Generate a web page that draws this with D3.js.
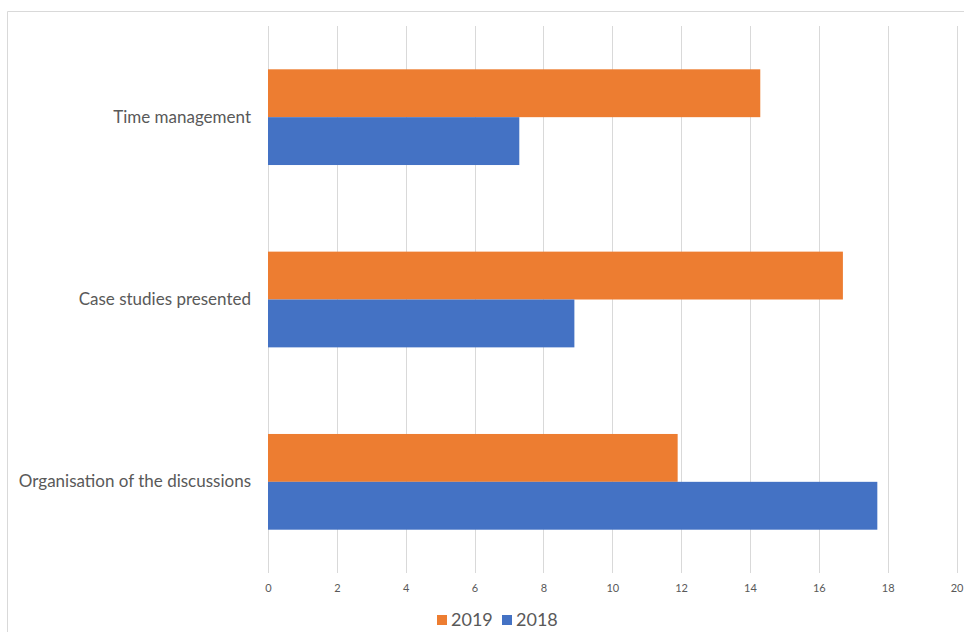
<!DOCTYPE html>
<html>
<head>
<meta charset="utf-8">
<script src="https://cdn.jsdelivr.net/npm/d3@7"></script>
<style>
  html, body { margin: 0; padding: 0; background: #fff; }
  svg { display: block; }
  text { font-family: Lato, "Open Sans", "DejaVu Sans", sans-serif; fill: #595959; }
</style>
</head>
<body>
<svg id="chart" width="964" height="632"></svg>
<script>
const categories = ["Time management", "Case studies presented", "Organisation of the discussions"];
const seriesNames = ["2019", "2018"];
const values2019 = [14.3, 16.7, 11.9];
const values2018 = [7.3, 8.9, 17.7];
const xTicks = [0, 2, 4, 6, 8, 10, 12, 14, 16, 18, 20];
const colors = { "2019": "#ED7D31", "2018": "#4472C4" };

const seriesValues = { "2019": values2019, "2018": values2018 };
const svg = d3.select("#chart");
const W = 964, H = 632;
const plot = { left: 268, right: 956.5, top: 26, bottom: 573 };

// chart area border (top and left visible)
svg.append("line").attr("x1", 7.5).attr("x2", W).attr("y1", 11.5).attr("y2", 11.5)
  .attr("stroke", "#d9d9d9").attr("stroke-width", 1);
svg.append("line").attr("x1", 7.5).attr("x2", 7.5).attr("y1", 11.5).attr("y2", H)
  .attr("stroke", "#d9d9d9").attr("stroke-width", 1);

const x = d3.scaleLinear().domain([0, 20]).range([plot.left, plot.right]);
const y = d3.scaleBand().domain(categories).range([plot.top, plot.bottom]).padding(0);
const gapFrac = 0.2375;
const ySub = d3.scaleBand().domain(seriesNames)
  .range([y.bandwidth() * gapFrac, y.bandwidth() * (1 - gapFrac)]).padding(0);

// gridlines
svg.append("g").selectAll("line").data(xTicks).join("line")
  .attr("x1", d => Math.round(x(d)) + 0.5).attr("x2", d => Math.round(x(d)) + 0.5)
  .attr("y1", plot.top).attr("y2", plot.bottom)
  .attr("stroke", "#d9d9d9").attr("stroke-width", 1);

// bars
const groups = svg.append("g").selectAll("g").data(categories).join("g")
  .attr("transform", c => `translate(0,${y(c)})`);
groups.selectAll("rect").data((c, i) => seriesNames.map(s => ({ s, v: seriesValues[s][i] })))
  .join("rect")
  .attr("x", x(0))
  .attr("y", d => ySub(d.s))
  .attr("width", d => x(d.v) - x(0))
  .attr("height", ySub.bandwidth())
  .attr("fill", d => colors[d.s]);

// x axis tick labels
const xAxis = d3.axisBottom(x).tickValues(xTicks).tickSize(0).tickPadding(0);
const gx = svg.append("g").attr("transform", `translate(0,${plot.bottom + 11})`).call(xAxis);
gx.select(".domain").remove();
gx.selectAll("text").style("font-size", "11px").attr("fill", "#595959")
  .style("font-family", "Lato, 'Open Sans', sans-serif");

// category labels
const yAxis = d3.axisLeft(y).tickSize(0).tickPadding(17);
const gy = svg.append("g").attr("transform", `translate(${plot.left},0)`).call(yAxis);
gy.select(".domain").remove();
gy.selectAll("text").style("font-size", "17px").attr("fill", "#595959")
  .style("font-family", "Lato, 'Open Sans', sans-serif");

// legend
const legendItems = [
  { name: "2019", x: 437 },
  { name: "2018", x: 502 }
];
const lg = svg.append("g").selectAll("g").data(legendItems).join("g")
  .attr("transform", d => `translate(${d.x},620)`);
lg.append("rect").attr("x", 0).attr("y", -5).attr("width", 10).attr("height", 10)
  .attr("fill", d => colors[d.name]);
lg.append("text").attr("x", 14).attr("y", 0).attr("dy", "0.35em")
  .style("font-size", "18px").text(d => d.name);
</script>
</body>
</html>
